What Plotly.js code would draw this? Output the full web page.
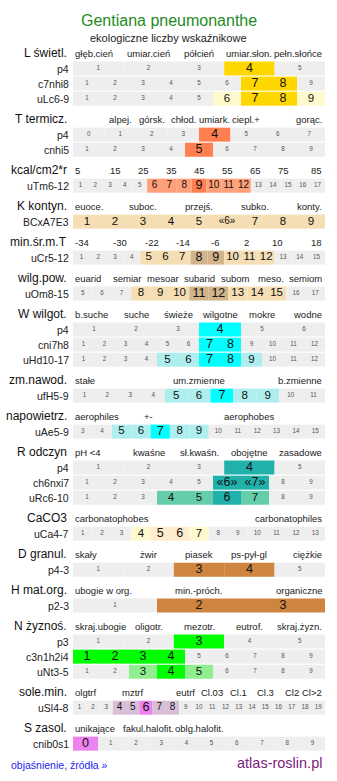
<!DOCTYPE html>
<html><head><meta charset="utf-8">
<script src="https://cdn.plot.ly/plotly-3.0.1.min.js"></script>
<style>html,body{margin:0;padding:0;background:#fff}#chart{width:337px;height:781px}</style>
</head><body><div id="chart"></div>
<script>
// ---------- data ----------
const titleText = "Gentiana pneumonanthe";
const subtitleText = "ekologiczne liczby wskaźnikowe";
const footerLeft = "objaśnienie, źródła »";
const footerRight = "atlas-roslin.pl";

const sectionNames = ["L świetl.", "T termicz.", "kcal/cm2*r", "K kontyn.", "min.śr.m.T", "wilg.pow.", "W wilgot.", "zm.nawod.", "napowietrz.", "R odczyn", "CaCO3", "D granul.", "H mat.org.", "N żyznoś.", "sole.min.", "S zasol."];
const sectionRowCounts = [3, 2, 1, 1, 1, 1, 3, 1, 1, 3, 1, 1, 1, 3, 1, 1];
const sectionCategories = [
  ["głęb.cień", "umiar.cień", "półcień", "umiar.słon.", "pełn.słońce"],
  ["", "alpej.", "górsk.", "chłod.", "umiark.", "ciepl.+", "", "gorąc."],
  ["5", "15", "25", "35", "45", "55", "65", "75", "85"],
  ["euoce.", "", "suboc.", "", "przejś.", "", "subko.", "", "konty."],
  ["-34", "-30", "-22", "-14", "-6", "2", "10", "18"],
  ["euarid", "semiar", "mesoar", "subarid", "subom", "meso.", "semiom"],
  ["b.suche", "suche", "świeże", "wilgotne", "mokre", "wodne"],
  ["stałe", "um.zmienne", "b.zmienne"],
  ["aerophiles", "+-", "", "aerophobes", ""],
  ["pH <4", "kwaśne", "sł.kwaśn.", "obojętne", "zasadowe"],
  ["carbonatophobes", "carbonatophiles"],
  ["skały", "żwir", "piasek", "ps-pył-gl", "ciężkie"],
  ["ubogie w org.", "min.-próch.", "organiczne"],
  ["skraj.ubogie", "oligotr.", "mezotr.", "eutrof.", "skraj.żyzn."],
  ["olgtrf", "", "", "", "mztrf", "", "", "", "eutrf", "", "Cl.03", "", "Cl.1", "", "Cl.3", "", "Cl2", "", "Cl>2"],
  ["unikające", "fakul.halofit.", "oblg.halofit.", "", ""]
];

const rowLabels = ["p4", "c7nhi8", "uLc6-9", "p4", "cnhi5", "uTm6-12", "BCxA7E3", "uCr5-12", "uOm8-15", "p4", "cni7h8", "uHd10-17", "ufH5-9", "uAe5-9", "p4", "ch6nxi7", "uRc6-10", "uCa4-7", "p4-3", "p2-3", "p3", "c3n1h2i4", "uNt3-5", "uSl4-8", "cnib0s1"];
const rowFirstValue = [1, 1, 1, 0, 1, 1, 1, 1, 5, 1, 1, 1, 1, 3, 1, 1, 1, 1, 1, 1, 1, 1, 1, 1, 0];
const rowLastValue  = [5, 9, 9, 7, 9, 17, 9, 15, 17, 6, 12, 12, 11, 15, 5, 9, 9, 13, 5, 3, 5, 9, 9, 19, 9];
const rowMainValues = [[4], [7, 8], [7, 8], [4], [5], [9], [], [8, 9], [11, 12], [4], [7, 8], [7, 8], [7], [7], [4], [6, 7], [6], [5, 6], [3, 4], [2, 3], [3], [1, 2, 3, 4], [4], [6], [0]];
const rowSideValues = [[], [], [6, 9], [], [], [6, 7, 8, 10, 11, 12], [1, 2, 3, 4, 5, 6, 7, 8, 9], [5, 6, 7, 10, 11, 12], [8, 9, 10, 13, 14, 15], [], [], [5, 6, 9], [5, 6, 8, 9], [5, 6, 8, 9], [], [], [4, 5, 7], [4, 7], [], [], [], [], [3, 5], [4, 5, 7, 8], []];
const rowBracketedValues = [[], [], [], [], [], [], [6], [], [], [], [], [], [], [], [], [6, 7], [], [], [], [], [], [], [], [], []];

// ---------- styles ----------
const rowMainColor = ["#FFD700", "#FFD700", "#FFD700", "#FF7F50", "#FF7F50", "#FF7F50", "#F5DEB3", "#D2B48C", "#D2B48C", "#00FFFF", "#00FFFF", "#00FFFF", "#00FFFF", "#00FFFF", "#20B2AA", "#20B2AA", "#20B2AA", "#FFEBCD", "#CD853F", "#CD853F", "#00FF00", "#00FF00", "#00FF00", "#EE82EE", "#EE82EE"];
const rowSideColor = ["#FFFACD", "#FFFACD", "#FFFACD", "#FFA07A", "#FFA07A", "#FFA07A", "#F5DEB3", "#F5DEB3", "#F5DEB3", "#AFEEEE", "#AFEEEE", "#AFEEEE", "#AFEEEE", "#AFEEEE", "#66CDAA", "#66CDAA", "#66CDAA", "#FFFACD", "#CD853F", "#CD853F", "#90EE90", "#90EE90", "#90EE90", "#D8BFD8", "#D8BFD8"];
const EMPTY = "#EEEEEE";
const FONT = "Liberation Sans, Arial, Helvetica, sans-serif";
const GX0 = 73, GX1 = 325, GW = GX1 - GX0;
const BAR_H = 14;

// ---------- layout of rows ----------
const headerY = [], rowY = [];
let yy = 53;
sectionRowCounts.forEach((cnt, s) => {
  headerY.push(yy);
  yy += 15.5;
  for (let k = 0; k < cnt; k++) {
    rowY.push(yy);
    if (k < cnt - 1) yy += 15.1;
  }
  yy += 20.45;
});
const footerY = rowY[rowY.length - 1] + 21;

// ---------- cells ----------
const barY = [], barBase = [], barLen = [], barColor = [];
const txtX = [], txtY = [], txtS = [], txtSize = [], txtColor = [];
rowLabels.forEach((lab, r) => {
  const first = rowFirstValue[r], last = rowLastValue[r];
  const n = last - first + 1, w = GW / n;
  for (let v = first; v <= last; v++) {
    const i = v - first;
    const isMain = rowMainValues[r].includes(v);
    const isSide = rowSideValues[r].includes(v);
    const br = rowBracketedValues[r].includes(v);
    barY.push(rowY[r]); barBase.push(GX0 + i * w); barLen.push(w);
    barColor.push(isMain ? rowMainColor[r] : (isSide ? rowSideColor[r] : EMPTY));
    txtX.push(GX0 + (i + 0.5) * w); txtY.push(rowY[r]);
    txtS.push(br ? "«" + v + "»" : String(v));
    let sz = 6.3;
    if (isMain) sz = 12.5;
    else if (isSide) sz = br ? 10 : (n > 15 ? 10 : 11.5);
    txtSize.push(sz);
    txtColor.push(isMain || isSide ? "#111" : "#555");
  }
});

const traces = [
  {type: "bar", orientation: "h", y: barY, x: barLen, base: barBase, width: BAR_H,
   marker: {color: barColor, line: {width: 0}}, hoverinfo: "skip", showlegend: false},
  {type: "scatter", mode: "text", x: txtX, y: txtY, text: txtS,
   textposition: "middle center", textfont: {family: FONT, size: txtSize, color: txtColor},
   hoverinfo: "skip", showlegend: false}
];

// ---------- text ----------
const ann = [];
function A(x, y, text, size, color, xanchor) {
  ann.push({x, y, xref: "x", yref: "y", text, showarrow: false, xanchor, yanchor: "middle",
    font: {family: FONT, size, color}, borderpad: 0});
}
A(168.5, 20, titleText, 16, "#1E8C1E", "center");
A(168.5, 37.5, subtitleText, 11, "#222", "center");
sectionNames.forEach((name, s) => {
  A(68, headerY[s], name, 12, "#111", "right");
  const cats = sectionCategories[s], m = cats.length;
  cats.forEach((c, k) => {
    if (!c) return;
    if (k === 0) A(GX0 + 1, headerY[s], c, 9.5, "#222", "left");
    else if (k === m - 1) A(GX1 - 2, headerY[s], c, 9.5, "#222", "right");
    else A(GX0 + (k + 0.5) * GW / m, headerY[s], c, 9.5, "#222", "center");
  });
});
rowLabels.forEach((lab, r) => A(70, rowY[r], lab, 10.5, "#222", "right"));
A(10, footerY, footerLeft, 10.5, "#2525EE", "left");
A(323, footerY - 2, footerRight, 14.5, "#7B1C7B", "right");

const layout = {
  width: 337, height: 781, margin: {l: 0, r: 0, t: 0, b: 0},
  paper_bgcolor: "#fff", plot_bgcolor: "#fff", barmode: "overlay",
  xaxis: {range: [0, 337], visible: false, fixedrange: true},
  yaxis: {range: [781, 0], visible: false, fixedrange: true},
  annotations: ann, showlegend: false
};
Plotly.newPlot("chart", traces, layout, {staticPlot: true, displayModeBar: false});
</script></body></html>
